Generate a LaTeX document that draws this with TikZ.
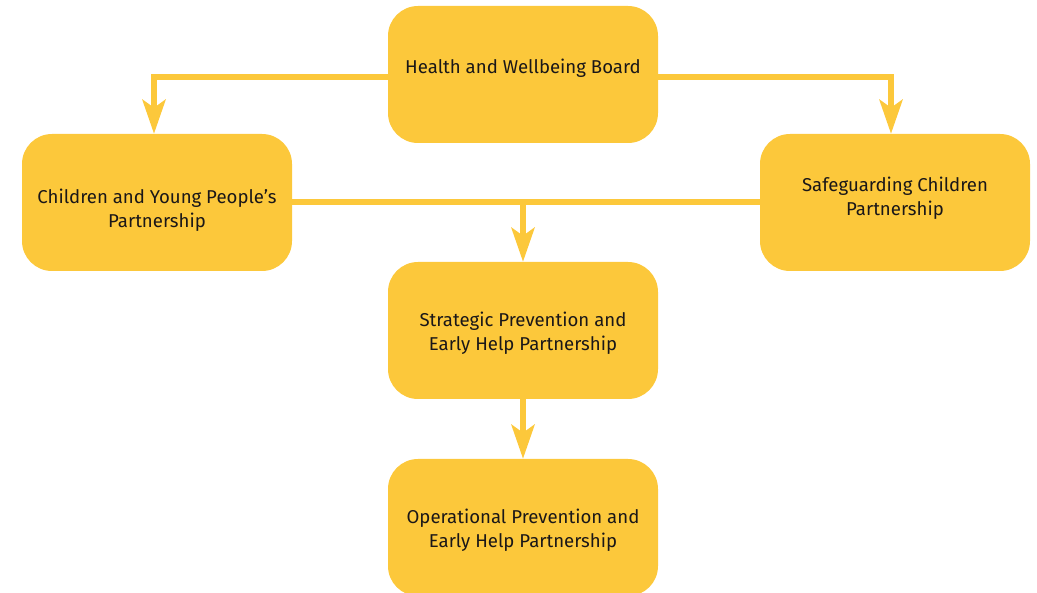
\documentclass[tikz,border=0pt]{standalone}
\usepackage{fontspec}
\setmainfont{Fira Sans}
\usetikzlibrary{arrows.meta}
\definecolor{boxyellow}{HTML}{FCC83B}
\definecolor{txt}{HTML}{1A1718}
\tikzset{
  pbox/.style={fill=boxyellow, draw=none, rounded corners=30pt, minimum width=270pt, minimum height=137pt, inner sep=0pt},
  ptext/.style={inner sep=0pt, align=center, text=txt, font=\fontsize{18.6}{24}\selectfont},
  link/.style={draw=boxyellow, line width=6pt},
  arr/.style={link, -{Stealth[length=34pt, width=23pt, inset=8pt]}}
}
\begin{document}
\begin{tikzpicture}[x=1pt, y=-1pt]
\useasboundingbox (0,0) rectangle (1037,593);
\node[pbox] (hwb) at (523,74.5) {};
\node[pbox] (cyp) at (157,202.5) {};
\node[pbox] (scp) at (895,202.5) {};
\node[pbox] (spp) at (523,330.5) {};
\node[pbox] (opp) at (523,527.5) {};
\node[ptext] (hwbt) at ([yshift=6pt]hwb.center) {Health and Wellbeing Board};
\node[ptext] (cypt) at ([yshift=-8pt]cyp.center) {Children and Young People’s\\Partnership};
\node[ptext] (scpt) at ([yshift=4pt]scp.center) {Safeguarding Children\\Partnership};
\node[ptext] (sppt) at ([yshift=-3pt]spp.center) {Strategic Prevention and\\Early Help Partnership};
\node[ptext] (oppt) at ([yshift=-3pt]opp.center) {Operational Prevention and\\Early Help Partnership};
\draw[arr] ([yshift=-2.5pt]hwb.west) -| ([xshift=-3pt]cyp.north);
\draw[arr] ([yshift=-2.5pt]hwb.east) -| ([xshift=-4pt]scp.north);
\draw[link] (cyp.east) -- (scp.west);
\draw[arr] (cyp.east -| spp.north) -- (spp.north);
\draw[arr] (spp.south) -- (opp.north);
\end{tikzpicture}
\end{document}
